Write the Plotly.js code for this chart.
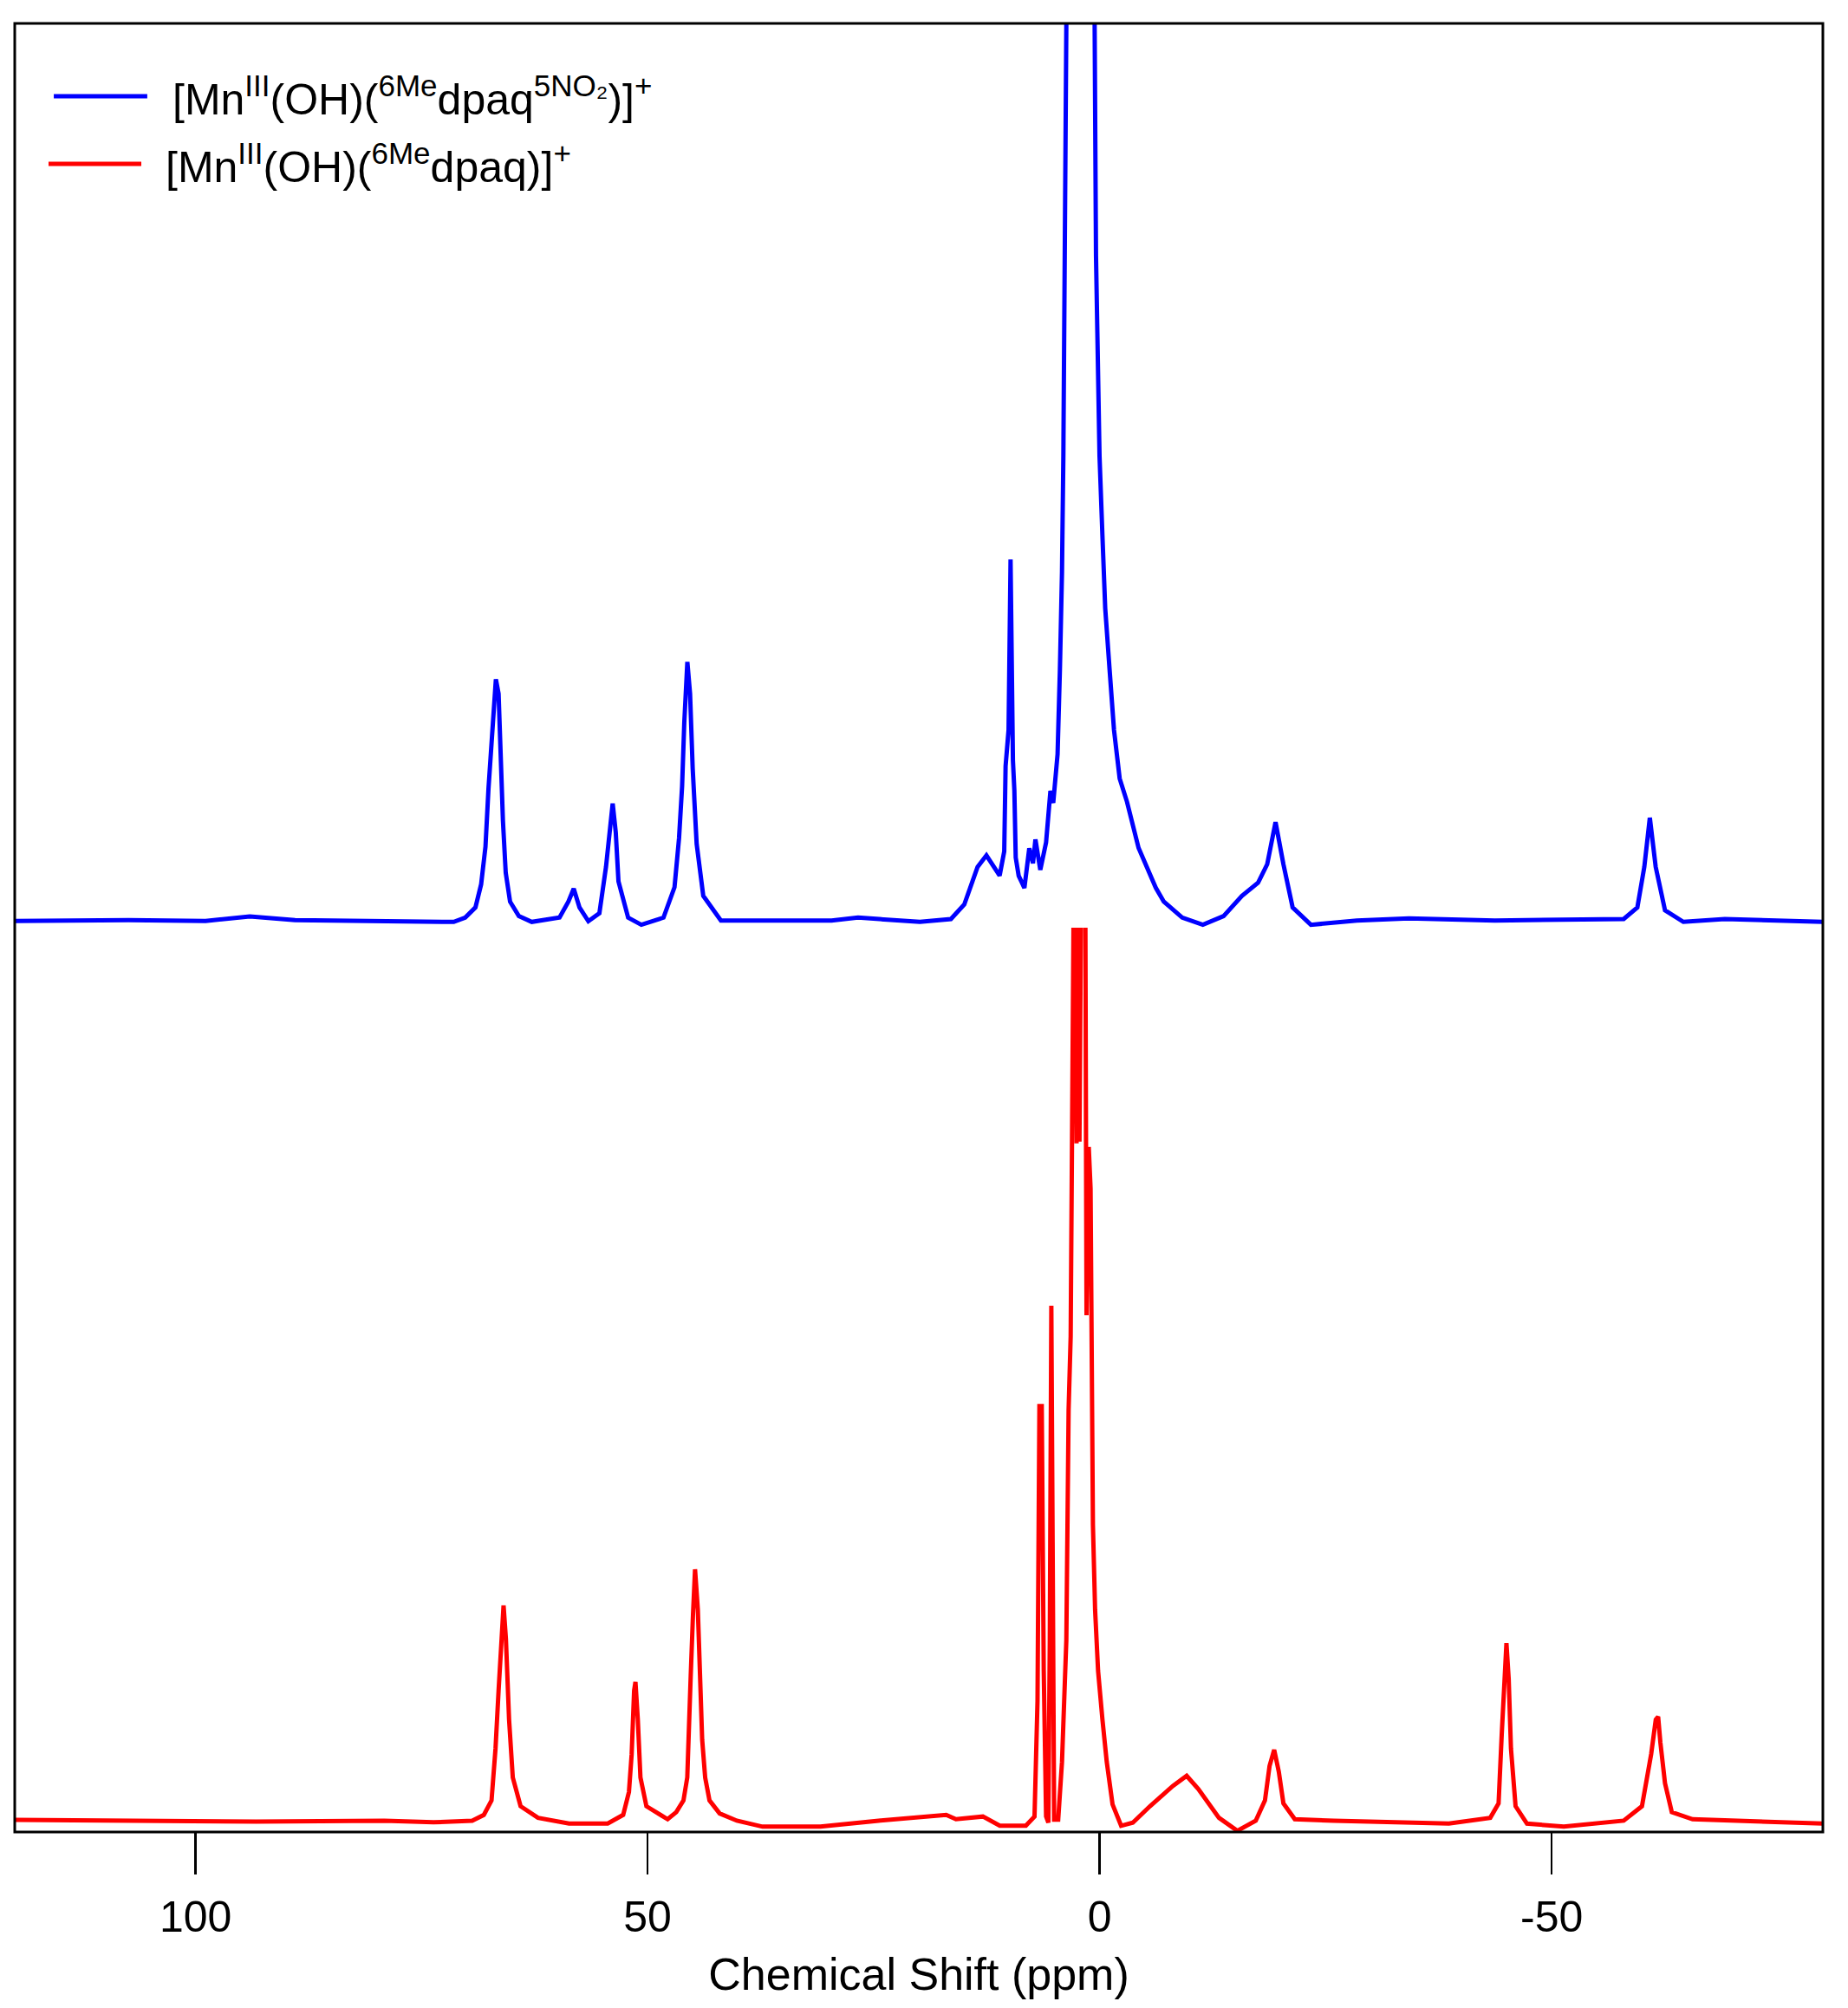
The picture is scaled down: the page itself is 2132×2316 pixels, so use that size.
<!DOCTYPE html>
<html>
<head>
<meta charset="utf-8">
<script src="https://cdn.plot.ly/plotly-3.0.1.min.js"></script>
<style>html,body{margin:0;padding:0;background:#fff;}</style>
</head>
<body>
<div id="chart" style="width:2132px;height:2316px;"></div>
<script>
// ---- Data (chemical shift in ppm, intensity in arbitrary units above each baseline) ----
const blueName = "[Mn<sup>III</sup>(OH)(<sup>6Me</sup>dpaq<sup>5NO₂</sup>)]<sup>+</sup>";
const redName  = "[Mn<sup>III</sup>(OH)(<sup>6Me</sup>dpaq)]<sup>+</sup>";

const blueX = [120, 107.4, 98.9, 94.0, 89.0, 73.7, 71.44, 70.17, 69.04, 68.41, 67.93, 67.60, 67.32, 67.08, 66.78, 66.48, 66.32, 66.00, 65.69, 65.21,
  64.24, 62.81, 59.74, 58.76, 58.17, 57.53, 56.55, 55.33, 54.60, 54.20, 53.86, 53.52, 53.22, 52.15, 50.69, 48.24, 47.02, 46.52, 46.18, 45.94,
  45.60, 45.30, 45.01, 44.57, 43.84, 41.89, 36.62, 29.65, 26.72, 19.88, 16.45, 14.97, 13.50, 12.52, 11.06, 10.55, 10.40, 10.07, 9.85, 9.59,
  9.43, 9.28, 8.95, 8.32, 7.78, 7.37, 7.10, 6.56, 5.92, 5.44, 5.13, 4.65, 4.39, 4.16, 4.01, 3.84, 3.68, 2.20, 0.55, 0.40,
  0.01, -0.31, -0.62, -1.10, -1.59, -2.22, -3.03, -4.31, -5.06, -6.22, -7.10, -9.14, -11.42, -13.71, -15.74, -17.52, -18.54, -19.46, -20.33, -21.35,
  -23.37, -28.46, -34.21, -43.72, -57.97, -59.48, -60.25, -60.86, -61.51, -62.54, -64.57, -69.15, -80.07];
const blueI = [0.0, 0.05, 0.0, 0.25, 0.05, -0.05, -0.05, 0.19, 0.75, 2.03, 4.11, 7.30, 9.70, 11.77, 13.37, 12.57, 9.70, 5.55, 2.67, 1.07,
  0.27, -0.05, 0.19, 1.07, 1.79, 0.75, -0.01, 0.43, 2.99, 5.23, 6.50, 4.91, 2.19, 0.19, -0.21, 0.19, 1.87, 4.58, 7.46, 10.98,
  14.33, 12.57, 8.42, 4.26, 1.39, 0.03, 0.05, 0.03, 0.19, -0.05, 0.11, 0.91, 2.99, 3.63, 2.51, 3.85, 8.57, 10.57, 19.99, 8.89,
  7.22, 3.51, 2.50, 1.83, 4.02, 3.19, 4.51, 2.83, 4.35, 7.20, 6.53, 9.22, 13.93, 19.31, 25.71, 37.46, 49.58, 75.0, 49.58, 36.80,
  25.71, 21.33, 17.29, 13.93, 10.57, 7.88, 6.59, 4.04, 3.15, 1.83, 1.07, 0.19, -0.21, 0.27, 1.39, 2.11, 3.14, 5.47, 3.14, 0.75,
  -0.21, 0.03, 0.14, 0.03, 0.11, 0.75, 2.99, 5.71, 2.99, 0.59, -0.05, 0.11, -0.05];

const redX = [120, 107.44, 93.28, 79.12, 73.68, 69.40, 68.11, 67.26, 66.82, 66.48, 66.18, 65.93, 65.67, 65.32, 64.91, 64.05, 62.12, 58.69, 54.41, 52.70,
  52.06, 51.76, 51.49, 51.34, 51.08, 50.79, 50.13, 48.75, 47.78, 46.83, 46.03, 45.61, 45.39, 45.23, 44.98, 44.75, 44.44, 44.21, 43.96, 43.63,
  43.15, 42.03, 40.12, 37.28, 30.88, 24.45, 16.97, 15.89, 12.91, 11.04, 8.16, 7.20, 6.87, 6.66, 6.40, 6.18, 5.92, 5.67, 5.51, 5.34,
  5.18, 5.03, 4.58, 4.16, 3.68, 3.43, 3.20, 3.05, 2.95, 2.75, 2.55, 2.41, 2.23, 2.06, 1.90, 1.60, 1.45, 1.20, 1.00, 0.86,
  0.74, 0.50, 0.17, -0.31, -0.79, -1.43, -2.38, -3.67, -5.57, -8.10, -9.63, -10.91, -13.20, -15.23, -17.27, -18.29, -18.80, -19.31, -19.82, -20.33,
  -21.59, -25.91, -38.63, -43.21, -44.13, -44.48, -44.74, -45.00, -45.25, -45.50, -46.01, -47.27, -51.35, -57.97, -59.99, -61.01, -61.52, -61.78, -62.03, -62.54,
  -63.29, -65.59, -80.08];
const redI = [0.1, 0.05, 0.0, 0.05, -0.04, 0.05, 0.37, 1.17, 4.04, 7.24, 10.43, 11.95, 10.11, 5.64, 2.44, 0.85, 0.21, -0.11, -0.11, 0.37,
  1.64, 3.73, 7.24, 7.72, 5.64, 2.44, 0.85, 0.45, 0.13, 0.52, 1.17, 2.44, 5.00, 8.04, 11.40, 13.95, 11.71, 7.72, 4.52, 2.44,
  1.17, 0.45, 0.05, -0.28, -0.28, 0.05, 0.37, 0.13, 0.28, -0.23, -0.23, 0.28, 6.66, 22.97, 22.97, 8.34, 0.28, -0.06, 10.03, 28.52,
  13.39, 0.11, 0.11, 3.30, 10.03, 22.80, 26.84, 42.99, 55.0, 60.0, 37.5, 58.0, 37.6, 60.0, 62.0, 55.0, 28.0, 37.3, 35.0, 25.0,
  16.42, 11.71, 8.34, 5.66, 3.30, 0.95, -0.23, -0.06, 0.85, 1.97, 2.53, 1.81, 0.21, -0.51, 0.05, 1.17, 3.08, 3.97, 2.76, 1.01,
  0.13, 0.05, -0.11, 0.21, 1.01, 4.84, 8.04, 9.87, 7.88, 4.04, 0.85, -0.11, -0.28, 0.05, 0.85, 3.73, 5.64, 5.80, 4.36, 2.12,
  0.52, 0.13, -0.11];

const tickVals = [100, 50, 0, -50];
const tickText = ["100", "50", "0", "-50"];
const xTitle = "Chemical Shift (ppm)";

// ---- Styles ----
const FONT = "Liberation Sans, Arial, Helvetica, sans-serif";
const BLUE = "#0000FF", RED = "#FF0000";
const LW = 5;

const traces = [
  {x: redX, y: redI, type: "scatter", mode: "lines", name: redName, xaxis: "x", yaxis: "y",
   line: {color: RED, width: LW}, showlegend: false, hoverinfo: "skip"},
  {x: blueX, y: blueI, type: "scatter", mode: "lines", name: blueName, xaxis: "x", yaxis: "y2",
   line: {color: BLUE, width: LW}, showlegend: false, hoverinfo: "skip"}
];

const layout = {
  width: 2132, height: 2316,
  margin: {l: 17, r: 29, t: 27, b: 203},
  paper_bgcolor: "#fff", plot_bgcolor: "#fff",
  font: {family: FONT, size: 50, color: "#000"},
  xaxis: {
    range: [120, -80], anchor: "y",
    tickmode: "array", tickvals: tickVals, ticktext: tickText,
    ticks: "outside", ticklen: 48, tickwidth: 2.5, tickcolor: "#000",
    ticklabelstandoff: 6,
    showline: false, showgrid: false, zeroline: false,
    tickfont: {family: FONT, size: 50, color: "#000"},
    title: {text: xTitle, font: {family: FONT, size: 52, color: "#000"}, standoff: 20}
  },
  yaxis: {domain: [0, 0.5], range: [-0.575, 49.425], anchor: "x",
    showticklabels: false, ticks: "", showgrid: false, zeroline: false, showline: false},
  yaxis2: {domain: [0.5, 1], range: [-0.37, 49.63], anchor: "x",
    showticklabels: false, ticks: "", showgrid: false, zeroline: false, showline: false},
  shapes: [
    {type: "rect", xref: "paper", yref: "paper", x0: 0, x1: 1, y0: 0, y1: 1,
     line: {color: "#000", width: 3}, fillcolor: "rgba(0,0,0,0)", layer: "above"},
    {type: "line", xref: "paper", yref: "paper", x0: 0.0216, x1: 0.0733, y0: 0.9597, y1: 0.9597,
     line: {color: BLUE, width: LW}},
    {type: "line", xref: "paper", yref: "paper", x0: 0.0187, x1: 0.0700, y0: 0.9223, y1: 0.9223,
     line: {color: RED, width: LW}}
  ],
  annotations: [
    {xref: "paper", yref: "paper", x: 0.0863, y: 0.9597, xanchor: "left", yanchor: "middle",
     text: blueName, showarrow: false, font: {family: FONT, size: 50, color: "#000"}},
    {xref: "paper", yref: "paper", x: 0.0825, y: 0.9223, xanchor: "left", yanchor: "middle",
     text: redName, showarrow: false, font: {family: FONT, size: 50, color: "#000"}}
  ]
};

Plotly.newPlot("chart", traces, layout, {staticPlot: true, displayModeBar: false});
</script>
</body>
</html>
